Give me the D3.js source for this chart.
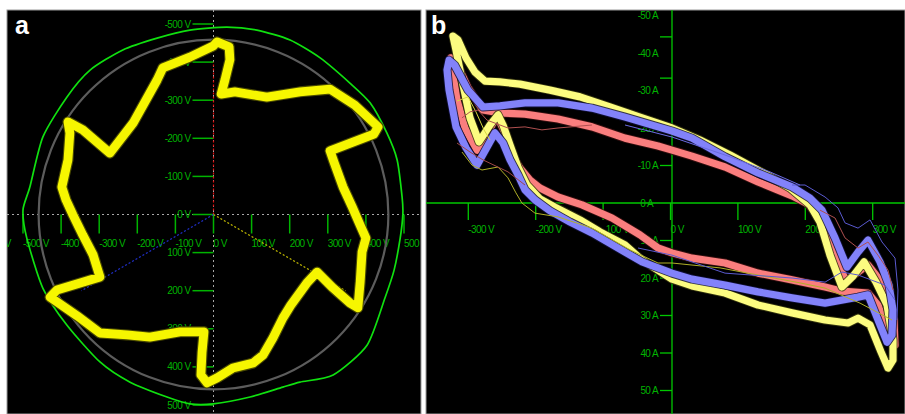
<!DOCTYPE html>
<html>
<head>
<meta charset="utf-8">
<script src="https://cdn.jsdelivr.net/npm/d3@7"></script>
<style>
  body { margin: 0; background: #fff; }
  svg { display: block; }
</style>
</head>
<body>
<svg id="chart" width="905" height="414"></svg>
<script>
// ---------- panel a: voltage space vector (V) ----------
const voltTicksX = [-600, -500, -400, -300, -200, -100, 0, 100, 200, 300, 400, 500];
const voltTicksY = [-500, -400, -300, -200, -100, 0, 100, 200, 300, 400, 500];
const limitCircleRadius = 459;            // reference circle, V
const phaseAmplitude = 400;               // phase vector length, V
const phaseAngles = [-90, 30, 150];       // degrees, screen orientation
const phaseColors = ["#e01010", "#c8c000", "#2030d0"];

// outer envelope of the voltage (V, V)
const envelope = [[-148,-463],[-62,-484],[35,-492],[114,-484],[201,-458],[280,-411],[358,-345],
  [411,-293],[455,-214],[482,-143],[495,-46],[497,-1],[490,62],[474,146],[450,219],[403,343],
  [314,421],[227,440],[182,453],[96,479],[-1,497],[-62,497],[-122,479],[-219,440],[-298,387],
  [-385,290],[-448,193],[-490,62],[-500,-12],[-482,-72],[-448,-203],[-385,-308],[-324,-379],[-238,-432]];

// star-shaped stator voltage trajectory (V, V)
const trajectory = [[9,-453],[41,-440],[43,-406],[30,-353],[20,-316],[56,-322],[140,-308],[227,-322],
  [306,-329],[371,-287],[432,-230],[421,-211],[306,-167],[316,-138],[340,-72],[364,-20],[385,28],
  [400,62],[390,98],[385,177],[379,245],[358,232],[314,193],[272,151],[245,180],[203,238],[182,272],
  [156,324],[130,369],[104,390],[51,403],[9,429],[-17,442],[-33,421],[-30,361],[-25,308],[-88,308],
  [-167,322],[-227,316],[-298,311],[-358,266],[-429,217],[-411,198],[-350,180],[-298,164],[-316,106],
  [-343,54],[-369,1],[-387,-38],[-398,-72],[-382,-143],[-377,-214],[-382,-243],[-343,-222],[-272,-161],
  [-211,-240],[-148,-353],[-133,-385],[-62,-413],[-1,-442]];

// ---------- panel b: phase current vs voltage (V, A) ----------
const voltTicksB = [-300, -200, -100, 0, 100, 200, 300];
const ampLabelsB = [-50, -40, -30, -20, -10, 0, 10, 20, 30, 40, 50];
const ampMarksB = [-44.3, -33.3, -20, -10, 10, 20, 30, 40, 50];

const loopRed = [[-325.7,-38.7],[-315.3,-36.5],[-300.4,-30.7],[-278.2,-24.8],[-253,-24],[-215.9,-23.7],
  [-166.9,-22.4],[-116.5,-20.3],[-67.5,-17.3],[-18.5,-15.2],[2.2,-14.1],[31.9,-12.5],[80.9,-9.6],
  [129.8,-5.6],[180.3,-1.9],[204,0.3],[218.8,3.2],[239.6,12.5],[260.4,20.8],[278.2,18.4],[293,16.5],
  [310.8,20.5],[322.7,23.7],[331.6,31.2],[333.1,37.9],[322.7,35.2],[307.8,27.2],[293,24],[254.4,23.5],
  [229.3,22.4],[180.3,20.5],[129.8,18.7],[80.9,16],[31.9,14.7],[2.2,13.3],[-18.5,12],[-45.3,8.5],
  [-86.8,4],[-131.3,0.5],[-166.9,-1.6],[-193.6,-4],[-208.5,-6.1],[-223.3,-9.3],[-235.2,-12.8],
  [-245.6,-18.7],[-257.4,-23.2],[-270.8,-18.9],[-287.1,-14.1],[-304.9,-20],[-316.8,-27.5],[-322.7,-34.1]];

const loopYellow = [[-322.7,-44.5],[-315.3,-43.5],[-303.4,-38.7],[-290.1,-34.9],[-275.2,-32.5],[-253,-32.3],
  [-223.3,-31.7],[-178.8,-30.1],[-134.3,-28.3],[-89.8,-25.6],[-45.3,-22.9],[2.2,-20],[43.8,-16.8],
  [88.3,-12.8],[132.8,-8.5],[177.3,-4],[207,0.5],[221.8,5.1],[236.6,13.9],[254.4,22.4],[270.8,19.5],
  [287.1,15.7],[304.9,21.1],[321.2,27.2],[330.1,36.5],[330.1,41.9],[322.7,44],[312.3,39.7],[296,32.5],
  [278.2,30.7],[263.4,32],[229.3,31.2],[180.3,29.3],[129.8,27.2],[80.9,24],[31.9,22.1],[2.2,20.3],
  [-42.3,15.2],[-67.5,11.2],[-104.6,7.7],[-134.3,4.5],[-171.4,1.1],[-193.6,-1.1],[-212.9,-4.8],
  [-226.3,-9.6],[-238.1,-15.5],[-248.5,-20.8],[-255.9,-23.5],[-267.8,-20.8],[-284.1,-16.3],
  [-297.5,-22.7],[-307.9,-31.5],[-318.3,-40.8]];

const loopBlue = [[-328.6,-38.1],[-320.4,-36.8],[-300.4,-30.1],[-278.2,-25.6],[-253,-25.9],[-215.9,-26.7],
  [-166.9,-26.7],[-116.5,-25.3],[-67.5,-22.9],[-18.5,-20.3],[2.2,-19.2],[31.9,-17.3],[80.9,-12.3],
  [129.8,-8],[180.3,-4.3],[207,-1.3],[224.8,1.9],[244.1,9.3],[261.9,17.1],[278.2,13.1],[293,9.9],
  [310.8,15.7],[324.2,21.9],[330.1,28.5],[328.6,35.2],[321.2,37.1],[310.8,32.5],[293,24.5],[278.2,25.1],
  [229.3,26.7],[180.3,25.3],[129.8,23.7],[80.9,21.9],[31.9,20.3],[2.2,18.7],[-18.5,17.3],[-42.3,15.7],
  [-67.5,13.1],[-116.5,8],[-149.1,5.1],[-178.8,2.1],[-201,-0.8],[-215.9,-3.5],[-226.3,-7.5],
  [-238.1,-11.5],[-248.5,-16],[-260.4,-18.7],[-272.2,-14.9],[-287.1,-10.1],[-303.4,-14.7],
  [-318.3,-20.3],[-328.6,-30.1],[-331.6,-35.5]];

// single transient traces
const traceOliveLow = [[-309.4,-13.6],[-294.5,-10.1],[-279.7,-8.8],[-255.9,-9.6],[-241.1,-6.7],[-229.3,-2.7],
  [-220.4,0],[-201.1,2.7],[-166.9,3.7],[-116.5,6.7],[-60.1,12.5],[-18.5,16],[2.2,16],[73.4,17.3],
  [129.8,19.2],[192.1,21.3],[229.3,22.7],[281.2,26.7],[328.6,31.2]];
const traceOliveHigh = [[-316.8,-27.2],[-300.4,-28.3],[-288.6,-24.3],[-276.7,-19.5],[-267.8,-16.8]];
const traceBrownHigh = [[-309.4,-22.7],[-297.5,-24.3],[-285.6,-24.8],[-272.2,-22.1],[-241.1,-20],
  [-215.9,-20.3],[-190.7,-19.5],[-166.9,-20],[-116.5,-20.8]];
const traceBrownLow = [[-316.8,-16],[-297.5,-13.6],[-278.2,-11.5],[-241.1,-8.3],[-215.9,-4.8]];
const traceBrownRight = [[221.8,1.9],[244.1,4],[258.9,9.3],[278.2,12],[293,10.4],[307.8,13.9],
  [322.7,17.9],[330.1,23.2]];
const traceBlueRight = [[180.3,-4.8],[199.6,-4.8],[229.3,-1.6],[248.5,1.3],[258.9,5.3],[278.2,6.7],
  [296,4.5],[313.8,10.4],[333.1,14.7],[337.5,23.2],[336,31.2]];
const traceBlueLow = [[-48.2,12],[2.2,13.9],[80.9,18.7],[180.3,20],[229.3,21.1],[254.4,18.4],
  [278.2,19.2],[318.3,21.9],[333.1,25.9]];
const traceBlueHigh = [[-67.5,-20.8],[2.2,-17.6],[80.9,-12.8],[147.6,-8.3],[192.1,-4.8]];

// ---------- drawing ----------
const svg = d3.select("#chart");
const font = "'Liberation Sans', Arial, sans-serif";
const tickGreen = "#00b400";
const defs = svg.append("defs");

function panel(id, x, y, w, h) {
  defs.append("clipPath").attr("id", id).append("rect")
    .attr("x", x).attr("y", y).attr("width", w).attr("height", h);
  svg.append("rect").attr("x", x).attr("y", y).attr("width", w).attr("height", h)
    .attr("fill", "#000").attr("stroke", "#9a9a9a").attr("stroke-width", 1);
  return svg.append("g").attr("clip-path", `url(#${id})`);
}

// ---- panel a ----
const gA = panel("clipA", 7, 10, 414, 404);
const xA = d3.scaleLinear().domain([-500, 500]).range([23, 404]);
const yA = d3.scaleLinear().domain([-500, 500]).range([24, 405]);
const ox = xA(0), oy = yA(0);

gA.append("line").attr("x1", 7).attr("x2", 421).attr("y1", oy).attr("y2", oy)
  .attr("stroke", "#a8a8a8").attr("stroke-width", 1).attr("stroke-dasharray", "2,3");
gA.append("line").attr("x1", ox).attr("x2", ox).attr("y1", 10).attr("y2", 414)
  .attr("stroke", "#a8a8a8").attr("stroke-width", 1).attr("stroke-dasharray", "2,3");

// x ticks (below axis)
const xt = gA.append("g");
xt.selectAll("line").data(voltTicksX).join("line")
  .attr("x1", d => xA(d)).attr("x2", d => xA(d)).attr("y1", oy).attr("y2", oy + 19)
  .attr("stroke", tickGreen).attr("stroke-width", 1.5);
xt.selectAll("text").data(voltTicksX).join("text")
  .attr("x", d => xA(d)).attr("y", oy + 32.5)
  .attr("font-family", font).attr("font-size", 10).attr("letter-spacing", -0.6)
  .attr("fill", tickGreen).text(d => `${d} V`);

// y ticks (left of axis)
const yt = gA.append("g");
yt.selectAll("line").data(voltTicksY).join("line")
  .attr("x1", ox - 21).attr("x2", ox).attr("y1", d => yA(d)).attr("y2", d => yA(d))
  .attr("stroke", tickGreen).attr("stroke-width", 1.5);
yt.selectAll("text").data(voltTicksY).join("text")
  .attr("x", ox - 23).attr("y", d => yA(d) + 3.5).attr("text-anchor", "end")
  .attr("font-family", font).attr("font-size", 10).attr("letter-spacing", -0.6)
  .attr("fill", tickGreen).text(d => `${d} V`);

// reference circle and envelope
gA.append("circle").attr("cx", ox).attr("cy", oy)
  .attr("r", xA(limitCircleRadius) - ox)
  .attr("fill", "none").attr("stroke", "#5c5c5c").attr("stroke-width", 2.2);

const lineA = d3.line().x(d => xA(d[0])).y(d => yA(d[1]));
gA.append("path").attr("d", lineA.curve(d3.curveCardinalClosed.tension(0.3))(envelope))
  .attr("fill", "none").attr("stroke", "#10e010").attr("stroke-width", 1.7);

// phase vectors
gA.selectAll(".phase").data(phaseAngles).join("line")
  .attr("x1", ox).attr("y1", oy)
  .attr("x2", d => xA(phaseAmplitude * Math.cos(d * Math.PI / 180)))
  .attr("y2", d => yA(phaseAmplitude * Math.sin(d * Math.PI / 180)))
  .attr("stroke", (d, i) => phaseColors[i]).attr("stroke-width", 1.2)
  .attr("stroke-dasharray", "2,2");

// trajectory band
const starPath = d3.line().x(d => xA(d[0])).y(d => yA(d[1])).curve(d3.curveLinearClosed)(trajectory);
gA.append("path").attr("d", starPath).attr("fill", "none")
  .attr("stroke", "#4a4a00").attr("stroke-width", 11).attr("stroke-linejoin", "round");
gA.append("path").attr("d", starPath).attr("fill", "none")
  .attr("stroke", "#f6f600").attr("stroke-width", 8.8).attr("stroke-linejoin", "round");

// ---- panel b ----
const gB = panel("clipB", 426, 10, 479, 404);
const xB = d3.scaleLinear().domain([-300, 300]).range([468.3, 872.7]);
const yB = d3.scaleLinear().domain([-50, 50]).range([15.5, 390.5]);
const axisX = xB(0) + 1.5, axisY = yB(0);
const axisGreen = "#00c800";

gB.append("line").attr("x1", 426).attr("x2", 905).attr("y1", axisY).attr("y2", axisY)
  .attr("stroke", axisGreen).attr("stroke-width", 1.3);
gB.append("line").attr("x1", axisX).attr("x2", axisX).attr("y1", 10).attr("y2", 414)
  .attr("stroke", axisGreen).attr("stroke-width", 1.3);

const xtB = gB.append("g");
xtB.selectAll("line").data(voltTicksB).join("line")
  .attr("x1", d => xB(d)).attr("x2", d => xB(d)).attr("y1", axisY).attr("y2", axisY + 17)
  .attr("stroke", axisGreen).attr("stroke-width", 1.3);
xtB.selectAll("text").data(voltTicksB).join("text")
  .attr("x", d => xB(d)).attr("y", axisY + 30)
  .attr("font-family", font).attr("font-size", 10).attr("letter-spacing", -0.6)
  .attr("fill", tickGreen).text(d => `${d} V`);

const ytB = gB.append("g");
ytB.selectAll("line").data(ampMarksB).join("line")
  .attr("x1", axisX - 12).attr("x2", axisX).attr("y1", d => yB(d)).attr("y2", d => yB(d))
  .attr("stroke", axisGreen).attr("stroke-width", 1.3);
ytB.selectAll("text").data(ampLabelsB).join("text")
  .attr("x", d => d === 0 ? axisX - 19 : axisX - 14).attr("y", d => yB(d) + 3.5)
  .attr("text-anchor", "end")
  .attr("font-family", font).attr("font-size", 10).attr("letter-spacing", -0.6)
  .attr("fill", tickGreen).text(d => `${d} A`);

const lineB = d3.line().x(d => xB(d[0])).y(d => yB(d[1]));
const bands = [
  { pts: loopRed, color: "#fa7e7e", edge: "#3a1010" },
  { pts: loopYellow, color: "#fcfc80", edge: "#3a3a10" },
  { pts: loopBlue, color: "#8282fa", edge: "#10103a" }
];
bands.forEach(b => {
  const d = lineB.curve(d3.curveLinearClosed)(b.pts);
  gB.append("path").attr("d", d).attr("fill", "none").attr("stroke", b.edge)
    .attr("stroke-width", 9).attr("stroke-linejoin", "round").attr("opacity", 0.85);
  gB.append("path").attr("d", d).attr("fill", "none").attr("stroke", b.color)
    .attr("stroke-width", 7.2).attr("stroke-linejoin", "round");
});

const traces = [
  { pts: traceOliveLow, color: "#b0b028" },
  { pts: traceOliveHigh, color: "#d8d840" },
  { pts: traceBrownHigh, color: "#b05050" },
  { pts: traceBrownLow, color: "#a04848" },
  { pts: traceBrownRight, color: "#b05050" },
  { pts: traceBlueRight, color: "#5a5ad0" },
  { pts: traceBlueLow, color: "#5a5ad0" },
  { pts: traceBlueHigh, color: "#6a6ae0" }
];
traces.forEach(t => {
  gB.append("path").attr("d", lineB.curve(d3.curveLinear)(t.pts)).attr("fill", "none")
    .attr("stroke", t.color).attr("stroke-width", 1);
});

// panel letters
svg.append("text").attr("x", 15).attr("y", 34).attr("font-family", font)
  .attr("font-weight", "bold").attr("font-size", 25).attr("fill", "#fff").text("a");
svg.append("text").attr("x", 431).attr("y", 34).attr("font-family", font)
  .attr("font-weight", "bold").attr("font-size", 25).attr("fill", "#fff").text("b");
</script>
</body>
</html>
